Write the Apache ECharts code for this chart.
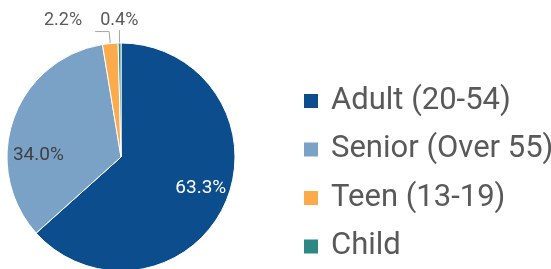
<!DOCTYPE html>
<html>
<head>
<meta charset="utf-8">
<script src="https://cdn.jsdelivr.net/npm/echarts@6/dist/echarts.min.js"></script>
<style>
  html, body { margin: 0; padding: 0; background: #fff; }
  #chart { width: 551px; height: 269px; }
</style>
</head>
<body>
<div id="chart"></div>
<script>
const categories = ['Adult (20-54)', 'Senior (Over 55)', 'Teen (13-19)', 'Child']
const shares = [63.3, 34.0, 2.2, 0.4]
const colorArr = ['#0b4d8d', '#7aa2c7', '#fbab4b', '#2d8782']

// per-slice label tweaks (Excel-like placement)
const labelTweaks = [
  { label: { position: 'inside', color: '#ffffff', fontSize: 19, offset: [25, 7] }, labelLine: { show: false } },
  { label: { position: 'inside', color: '#404040', fontSize: 19, offset: [-26, 18] }, labelLine: { show: false } },
  { label: { position: 'outside' }, labelLine: { length: 12, length2: 14 } },
  { label: { position: 'outside' }, labelLine: { length: 13, length2: 0 } }
]
const labelMoves = [null, null, { dx: -8, dy: -11 }, { dx: 24, dy: -10 }]

const chart = echarts.init(document.getElementById('chart'))
chart.setOption({
  color: colorArr,
  animation: false,
  legend: {
    orient: 'vertical',
    left: 302,
    top: 85,
    padding: 0,
    icon: 'rect',
    itemWidth: 16,
    itemHeight: 16,
    itemGap: 16.5,
    data: categories,
    textStyle: {
      fontFamily: 'Roboto',
      fontSize: 31,
      lineHeight: 32,
      color: '#595959',
      padding: [0, 0, 0, 7]
    }
  },
  series: [
    {
      type: 'pie',
      center: [121, 157],
      radius: 114,
      startAngle: 90,
      clockwise: true,
      avoidLabelOverlap: false,
      itemStyle: { borderColor: '#ffffff', borderWidth: 1 },
      label: {
        fontFamily: 'Roboto',
        fontSize: 18,
        color: '#595959',
        formatter: p => p.value.toFixed(1) + '%'
      },
      labelLine: {
        lineStyle: { color: '#a6a6a6', width: 1 }
      },
      labelLayout: p => labelMoves[p.dataIndex] || {},
      data: categories.map((name, i) => Object.assign({ name, value: shares[i] }, labelTweaks[i]))
    }
  ]
})
window.addEventListener('resize', () => chart.resize())
</script>
</body>
</html>
